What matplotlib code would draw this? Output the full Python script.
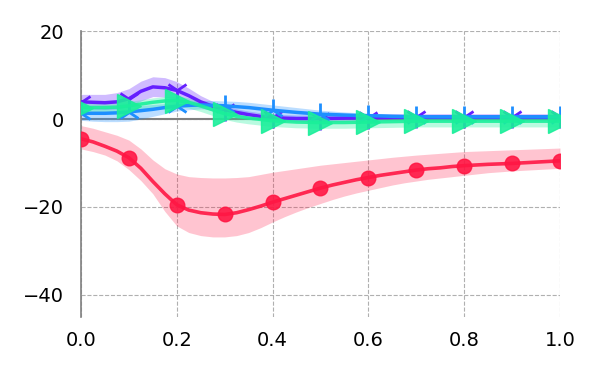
import numpy as np
import matplotlib
matplotlib.use("Agg")
import matplotlib.pyplot as plt

x = [i * 0.025 for i in range(41)]

red_mean = [-4.5, -5.2, -6.2, -7.3, -8.8, -11.2, -14.2, -17.0, -19.5, -20.7, -21.3,
            -21.6, -21.7, -21.3, -20.6, -19.8, -18.9, -18.1, -17.3, -16.5, -15.7,
            -15.0, -14.4, -13.8, -13.3, -12.8, -12.4, -12.0, -11.6, -11.3, -11.1,
            -10.8, -10.6, -10.45, -10.3, -10.2, -10.1, -9.95, -9.8, -9.65, -9.5]
red_upper = [-1.5, -2.1, -2.9, -3.7, -4.8, -6.8, -9.3, -11.3, -12.5, -13.1, -13.3,
             -13.4, -13.4, -13.3, -13.1, -12.6, -12.1, -11.7, -11.3, -10.9, -10.5,
             -10.2, -9.9, -9.6, -9.3, -9.0, -8.7, -8.45, -8.2, -8.0, -7.8,
             -7.6, -7.4, -7.3, -7.2, -7.1, -7.0, -6.9, -6.8, -6.7, -6.6]
red_lower = [-6.8, -7.4, -8.2, -9.5, -11.5, -14.0, -17.0, -21.0, -24.3, -25.8, -26.5,
             -26.8, -26.8, -26.5, -25.8, -24.7, -23.4, -22.2, -21.1, -20.1, -19.2,
             -18.3, -17.5, -16.8, -16.2, -15.6, -15.0, -14.5, -14.1, -13.7, -13.4,
             -13.1, -12.8, -12.5, -12.2, -12.0, -11.8, -11.65, -11.5, -11.35, -11.2]

purple_mean = [3.9, 3.8, 3.7, 3.9, 4.6, 6.3, 7.3, 7.1, 6.5, 5.3, 3.9,
               2.9, 2.1, 1.5, 1.0, 0.6, 0.4, 0.2, 0.1, 0.1, 0.1,
               0.15, 0.2, 0.25, 0.3, 0.35, 0.4, 0.4, 0.4, 0.42, 0.45,
               0.45, 0.45, 0.45, 0.45, 0.45, 0.45, 0.45, 0.45, 0.45, 0.45]
purple_upper = [5.6, 5.6, 5.6, 6.0, 6.9, 8.6, 9.6, 9.4, 8.5, 7.0, 5.3,
                4.0, 3.0, 2.3, 1.8, 1.4, 1.2, 1.0, 0.9, 0.9, 0.9,
                0.95, 1.0, 1.05, 1.1, 1.15, 1.2, 1.2, 1.2, 1.2, 1.2,
                1.2, 1.2, 1.2, 1.2, 1.2, 1.2, 1.2, 1.2, 1.2, 1.2]
purple_lower = [2.4, 2.3, 2.2, 2.3, 2.8, 4.1, 5.1, 5.0, 4.4, 3.4, 2.6,
                1.8, 1.2, 0.7, 0.3, 0.0, -0.3, -0.45, -0.6, -0.6, -0.6,
                -0.55, -0.5, -0.45, -0.4, -0.35, -0.3, -0.3, -0.3, -0.3, -0.3,
                -0.3, -0.3, -0.3, -0.3, -0.3, -0.3, -0.3, -0.3, -0.3, -0.3]

blue_mean = [1.3, 1.3, 1.3, 1.4, 1.6, 1.9, 2.2, 2.6, 2.9, 3.1, 3.2,
             3.1, 3.0, 2.8, 2.6, 2.3, 2.0, 1.75, 1.5, 1.3, 1.1,
             1.0, 0.9, 0.8, 0.75, 0.7, 0.6, 0.55, 0.5, 0.5, 0.5,
             0.5, 0.5, 0.5, 0.5, 0.5, 0.5, 0.5, 0.5, 0.5, 0.5]
blue_upper = [2.6, 2.6, 2.6, 2.8, 3.0, 3.1, 3.3, 3.5, 3.8, 4.0, 4.2,
              4.2, 4.1, 4.0, 3.8, 3.5, 3.2, 2.9, 2.6, 2.3, 2.0,
              1.8, 1.6, 1.45, 1.3, 1.2, 1.1, 1.05, 1.0, 0.95, 0.9,
              0.9, 0.9, 0.9, 0.9, 0.9, 0.9, 0.9, 0.9, 0.9, 0.9]
blue_lower = [-0.3, -0.5, -0.6, -0.6, -0.5, 0.0, 0.6, 1.2, 1.8, 2.1, 2.3,
              2.2, 2.0, 1.8, 1.5, 1.2, 0.9, 0.7, 0.5, 0.4, 0.3,
              0.25, 0.2, 0.2, 0.2, 0.15, 0.1, 0.1, 0.1, 0.1, 0.1,
              0.1, 0.1, 0.1, 0.1, 0.1, 0.1, 0.1, 0.1, 0.1, 0.1]

green_mean = [2.6, 2.6, 2.6, 2.7, 3.0, 3.4, 3.8, 4.1, 4.2, 3.8, 3.0,
              2.1, 1.2, 0.6, 0.2, -0.1, -0.4, -0.55, -0.7, -0.75, -0.8,
              -0.8, -0.8, -0.75, -0.7, -0.65, -0.6, -0.55, -0.5, -0.5, -0.5,
              -0.5, -0.5, -0.5, -0.5, -0.5, -0.5, -0.5, -0.5, -0.5, -0.5]
green_upper = [3.6, 3.6, 3.6, 3.7, 4.0, 4.4, 4.8, 5.1, 5.2, 4.8, 4.0,
               3.1, 2.2, 1.6, 1.1, 0.8, 0.5, 0.35, 0.2, 0.15, 0.1,
               0.1, 0.1, 0.15, 0.2, 0.25, 0.3, 0.35, 0.4, 0.4, 0.4,
               0.4, 0.4, 0.4, 0.4, 0.4, 0.4, 0.4, 0.4, 0.4, 0.4]
green_lower = [1.3, 1.3, 1.3, 1.4, 1.7, 2.1, 2.5, 2.8, 2.9, 2.5, 1.7,
               0.8, -0.1, -0.7, -1.1, -1.4, -1.7, -1.85, -2.0, -2.05, -2.1,
               -2.1, -2.1, -2.05, -2.0, -1.95, -1.9, -1.85, -1.8, -1.8, -1.8,
               -1.8, -1.8, -1.8, -1.8, -1.8, -1.8, -1.8, -1.8, -1.8, -1.8]

xticks = [0.0, 0.2, 0.4, 0.6, 0.8, 1.0]
yticks = [-40, -20, 0, 20]

RED = "#ff1744"
PURPLE = "#651fff"
BLUE = "#1e8fff"
GREEN = "#1aef9a"

fig = plt.figure(figsize=(6, 3.75), dpi=100)
ax = fig.add_axes([0.135, 0.1547, 0.7983, 0.7626])

ax.axhline(0, color="#808080", lw=1.5, zorder=1)

ax.fill_between(x, red_lower, red_upper, color=RED, alpha=0.25, lw=0, zorder=2)
ax.plot(x, red_mean, color=RED, lw=2.6, marker="o", ms=10.5, markevery=4,
        alpha=0.9, zorder=3)

ax.fill_between(x, purple_lower, purple_upper, color=PURPLE, alpha=0.3, lw=0, zorder=2)
ax.plot(x, purple_mean, color=PURPLE, lw=2.5, marker="1", ms=16, mew=2,
        markevery=4, zorder=3)

ax.fill_between(x, blue_lower, blue_upper, color=BLUE, alpha=0.3, lw=0, zorder=2)
ax.plot(x, blue_mean, color=BLUE, lw=2.5, marker="2", ms=16, mew=2,
        markevery=4, zorder=3)

ax.fill_between(x, green_lower, green_upper, color=GREEN, alpha=0.3, lw=0, zorder=2)
ax.plot(x, green_mean, color=GREEN, lw=2.5, marker=">", ms=17,
        markevery=4, alpha=0.9, zorder=4)

ax.set_xlim(0, 1)
ax.set_ylim(-45, 20)
ax.set_xticks(xticks)
ax.set_yticks(yticks)
ax.grid(True, color="#b0b0b0", ls="--", lw=0.8, zorder=0)
ax.set_axisbelow(True)

for s in ["top", "right", "bottom"]:
    ax.spines[s].set_visible(False)
ax.spines["left"].set_color("#808080")
ax.spines["left"].set_linewidth(1.2)

ax.tick_params(axis="both", length=0, labelsize=14)
ax.tick_params(axis="x", pad=10)
ax.tick_params(axis="y", pad=12)

fig.savefig("out.png", dpi=100)
